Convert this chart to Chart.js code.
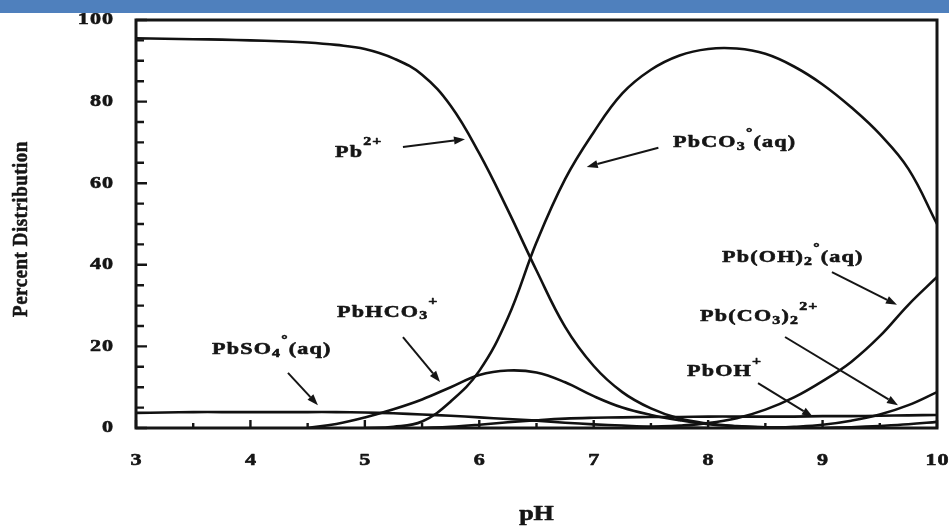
<!DOCTYPE html>
<html>
<head>
<meta charset="utf-8">
<script src="https://cdn.jsdelivr.net/npm/chart.js@4.4.1/dist/chart.umd.min.js"></script>
<style>
  html, body { margin: 0; padding: 0; background: #fff; }
  #wrap { position: relative; width: 949px; height: 527px; }
  #band { position: absolute; left: 0; top: 0; width: 949px; height: 13px; background: #4f80bd; }
</style>
</head>
<body>
<div id="wrap">
  <canvas id="chart"></canvas>
  <div id="band"></div>
</div>
<script>
// pH grid shared by every species curve
const pH = [3, 3.25, 3.5, 3.75, 4, 4.25, 4.5, 4.75, 5, 5.25, 5.5, 5.75, 6, 6.25, 6.5, 6.75,
            7, 7.25, 7.5, 7.75, 8, 8.25, 8.5, 8.75, 9, 9.25, 9.5, 9.75, 10];

// percent distribution of each lead species (null = not present)
const pb2 = [95.5, 95.4, 95.3, 95.2, 95.0, 94.8, 94.5, 93.9, 92.9, 90.6, 86.6, 79.0, 67.3, 53.4, 38.6, 24.8,
             15.2, 8.8, 4.8, 2.3, 1.1, 0.5, 0.2, 0.05, 0, null, null, null, null];
const pbco3 = [null, null, null, null, null, null, null, null, 0, 0.3, 1.6, 6.5, 14.0, 27.0, 45.5, 61.0,
               72.5, 82.0, 87.8, 91.3, 92.9, 93.0, 91.7, 88.6, 84.2, 78.6, 72.0, 63.5, 50.0];
const pbhco3 = [null, null, null, null, null, null, 0, 1.0, 2.6, 4.6, 7.0, 10.0, 13.0, 14.1, 13.6, 11.2,
                7.8, 5.0, 3.2, 1.9, 0.9, 0.4, 0.1, 0, null, null, null, null, null];
const pbso4 = [3.7, 3.8, 3.9, 3.9, 3.9, 3.9, 3.9, 3.9, 3.8, 3.6, 3.3, 3.0, 2.6, 2.2, 1.8, 1.3,
               0.9, 0.6, 0.3, 0.1, 0, null, null, null, null, null, null, null, null];
const pboh = [null, null, null, null, null, null, null, null, null, null, 0, 0.3, 0.8, 1.4, 1.9, 2.3,
              2.5, 2.6, 2.7, 2.7, 2.8, 2.8, 2.8, 2.8, 2.9, 2.9, 3.0, 3.1, 3.2];
const pboh2 = [null, null, null, null, null, null, null, null, null, null, null, null, null, null, null, null,
               null, 0, 0.3, 0.6, 1.2, 2.4, 4.5, 7.5, 11.5, 16.2, 22.5, 30.2, 37.0];
const pbco32 = [null, null, null, null, null, null, null, null, null, null, null, null, null, null, null, null,
                null, null, null, null, null, null, 0, 0.3, 0.8, 1.8, 3.3, 5.6, 8.8];
const pbOther = [null, null, null, null, null, null, null, null, null, null, null, null, null, null, null, null,
                 null, null, null, null, null, null, null, null, 0, 0.2, 0.5, 0.9, 1.5];

// axis tick labels
const xTicks = [3, 4, 5, 6, 7, 8, 9, 10];
const yTicks = [0, 20, 40, 60, 80, 100];

const series = [
  ['Pb2+', pb2], ['PbCO3°(aq)', pbco3], ['PbHCO3+', pbhco3], ['PbSO4°(aq)', pbso4],
  ['PbOH+', pboh], ['Pb(OH)2°(aq)', pboh2], ['Pb(CO3)2 2+', pbco32], ['other', pbOther]
];

// species labels with arrows, in data units (pH, percent)
const notes = [
  { segs: [['Pb'], ['2+', 'sup']], at: [4.739, 67.6], from: [5.333, 68.9], to: [5.875, 70.8] },
  { segs: [['PbCO'], ['3', 'sub'], ['°', 'sup'], ['(aq)']], at: [7.693, 69.9], from: [7.565, 68.7], to: [6.939, 64.0] },
  { segs: [['Pb(OH)'], ['2', 'sub'], ['°', 'sup'], ['(aq)']], at: [8.121, 41.7], from: [9.082, 38.2], to: [9.650, 30.2] },
  { segs: [['Pb(CO'], ['3', 'sub'], [')'], ['2', 'sub'], ['2+', 'sup']], at: [7.929, 27.2], from: [8.672, 22.3], to: [9.659, 5.6] },
  { segs: [['PbOH'], ['+', 'sup']], at: [7.815, 13.7], from: [8.436, 11.0], to: [8.916, 2.7] },
  { segs: [['PbHCO'], ['3', 'sub'], ['+', 'sup']], at: [4.757, 28.4], from: [5.333, 22.3], to: [5.657, 11.3] },
  { segs: [['PbSO'], ['4', 'sub'], ['°', 'sup'], ['(aq)']], at: [3.664, 19.1], from: [4.328, 13.5], to: [4.590, 5.6] }
];

const FONT = '"Liberation Serif", "Times New Roman", serif';
const STRETCH = 1.3;
const INK = '#151515';

// draws a run of text made of normal / sub / sup segments, widened horizontally
function drawRun(ctx, segs, x, y, o) {
  const pieces = [];
  let total = 0;
  const gap = (o.ls || 0) / STRETCH;
  for (const s of segs) {
    const kind = s[1];
    const size = kind ? o.size * 0.72 : o.size;
    const dy = kind === 'sup' ? o.supDy : kind === 'sub' ? o.subDy : 0;
    ctx.font = `bold ${size}px ${FONT}`;
    for (const ch of s[0]) {
      const w = ctx.measureText(ch).width;
      pieces.push({ ch, size, dy, w });
      total += w + gap;
    }
  }
  total -= gap;
  let cx = o.align === 'right' ? -total : o.align === 'center' ? -total / 2 : 0;
  ctx.save();
  ctx.fillStyle = INK;
  ctx.strokeStyle = INK;
  ctx.lineWidth = 0.6;
  ctx.lineJoin = 'round';
  ctx.textBaseline = o.baseline || 'middle';
  ctx.textAlign = 'left';
  ctx.translate(x, y);
  ctx.scale(STRETCH, 1);
  for (const p of pieces) {
    ctx.font = `bold ${p.size}px ${FONT}`;
    ctx.fillText(p.ch, cx, p.dy);
    ctx.strokeText(p.ch, cx, p.dy);
    cx += p.w + gap;
  }
  ctx.restore();
}

function arrow(ctx, x1, y1, x2, y2) {
  const a = Math.atan2(y2 - y1, x2 - x1);
  const L = 11, W = 4;
  const bx = x2 - L * Math.cos(a), by = y2 - L * Math.sin(a);
  ctx.beginPath();
  ctx.moveTo(x1, y1);
  ctx.lineTo(bx, by);
  ctx.stroke();
  ctx.beginPath();
  ctx.moveTo(x2, y2);
  ctx.lineTo(bx - W * Math.sin(a), by + W * Math.cos(a));
  ctx.lineTo(bx + W * Math.sin(a), by - W * Math.cos(a));
  ctx.closePath();
  ctx.fill();
}

const framePlugin = {
  id: 'frameAndNotes',
  afterDatasetsDraw(chart) {
    const { ctx, chartArea: a, scales: { x, y } } = chart;
    ctx.save();
    // plot frame
    ctx.strokeStyle = INK;
    ctx.lineWidth = 3;
    ctx.strokeRect(a.left, a.top, a.right - a.left, a.bottom - a.top);
    // inward tick marks
    ctx.lineWidth = 2.4;
    ctx.beginPath();
    for (let v = 0; v <= 100; v += 5) {
      const py = y.getPixelForValue(v);
      const len = v % 20 === 0 ? 11 : 8;
      ctx.moveTo(a.left, py);
      ctx.lineTo(a.left + len, py);
    }
    for (let v = 3; v <= 10; v += 0.5) {
      const px = x.getPixelForValue(v);
      const len = Number.isInteger(v) ? 8 : 5;
      ctx.moveTo(px, a.bottom);
      ctx.lineTo(px, a.bottom - len);
    }
    ctx.stroke();

    // tick labels
    for (const t of y.ticks) {
      drawRun(ctx, [[String(t.value)]], a.left - 23, y.getPixelForValue(t.value), { size: 17, ls: 1, align: 'right' });
    }
    for (const t of x.ticks) {
      drawRun(ctx, [[String(t.value)]], x.getPixelForValue(t.value), a.bottom + 33, { size: 17, ls: 1, align: 'center' });
    }

    // axis titles
    drawRun(ctx, [['pH']], (a.left + a.right) / 2, 520, { size: 20, ls: 0, align: 'center', baseline: 'alphabetic' });
    ctx.save();
    ctx.translate(21, 229);
    ctx.rotate(-Math.PI / 2);
    ctx.scale(1, 1.15);
    ctx.fillStyle = INK;
    ctx.strokeStyle = INK;
    ctx.lineWidth = 0.5;
    ctx.font = `bold 19px ${FONT}`;
    ctx.textAlign = 'center';
    ctx.textBaseline = 'middle';
    ctx.letterSpacing = '0.5px';
    ctx.fillText('Percent Distribution', 0, 0);
    ctx.strokeText('Percent Distribution', 0, 0);
    ctx.restore();

    // species labels and arrows
    ctx.strokeStyle = INK;
    ctx.fillStyle = INK;
    ctx.lineWidth = 2;
    for (const n of notes) {
      drawRun(ctx, n.segs, x.getPixelForValue(n.at[0]), y.getPixelForValue(n.at[1]),
        { size: 17, ls: 1.2, align: 'left', supDy: -10, subDy: 4 });
      arrow(ctx, x.getPixelForValue(n.from[0]), y.getPixelForValue(n.from[1]),
        x.getPixelForValue(n.to[0]), y.getPixelForValue(n.to[1]));
    }
    ctx.restore();
  }
};

new Chart(document.getElementById('chart'), {
  type: 'line',
  data: {
    datasets: series.map(([label, vals]) => ({
      label,
      data: pH.map((p, i) => ({ x: p, y: vals[i] })),
      borderColor: '#111',
      borderWidth: 2.6,
      pointRadius: 0,
      fill: false,
      tension: 0.4,
      spanGaps: false
    }))
  },
  options: {
    responsive: true,
    maintainAspectRatio: false,
    animation: false,
    events: [],
    layout: { padding: { left: 0, right: 12, top: 20, bottom: 0 } },
    plugins: { legend: { display: false }, tooltip: { enabled: false } },
    scales: {
      x: {
        type: 'linear', min: 3, max: 10,
        grid: { display: false, drawTicks: false },
        border: { display: false },
        ticks: { display: false },
        afterBuildTicks: s => { s.ticks = xTicks.map(v => ({ value: v })); },
        afterFit: s => { s.height = 99; }
      },
      y: {
        type: 'linear', min: 0, max: 100,
        grid: { display: false, drawTicks: false },
        border: { display: false },
        ticks: { display: false },
        afterBuildTicks: s => { s.ticks = yTicks.map(v => ({ value: v })); },
        afterFit: s => { s.width = 136; }
      }
    }
  },
  plugins: [framePlugin]
});
</script>
</body>
</html>
